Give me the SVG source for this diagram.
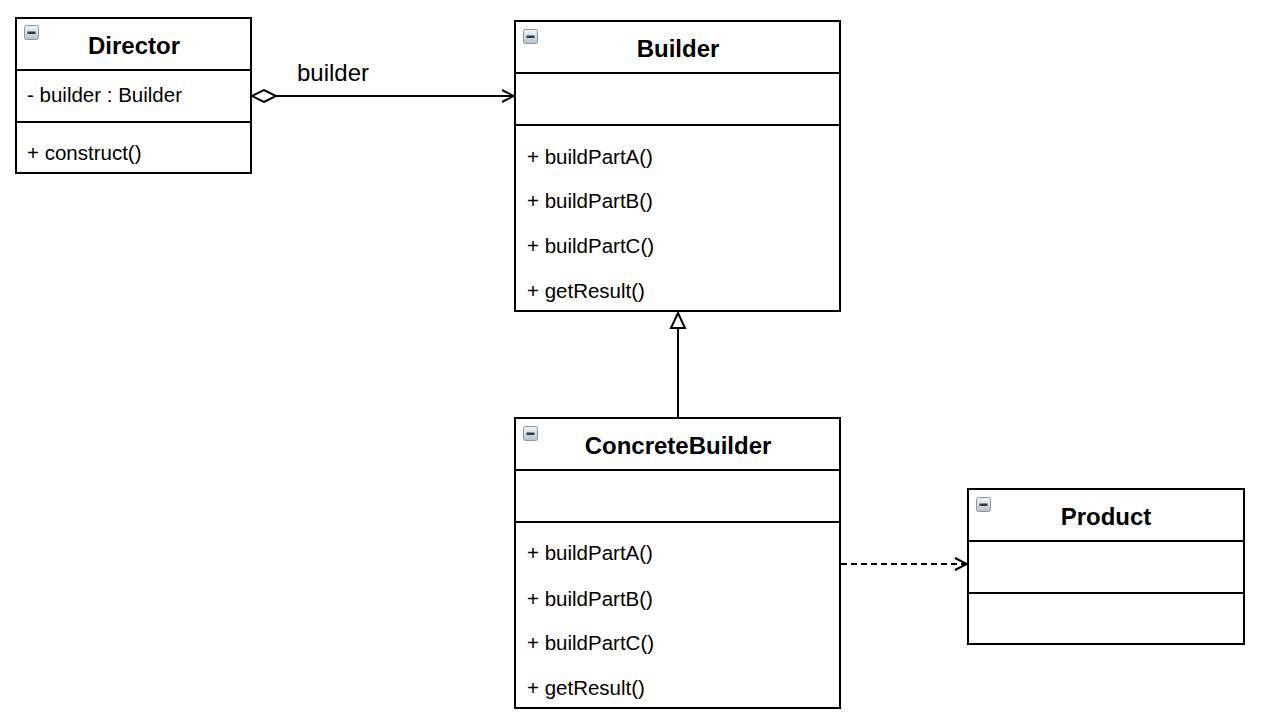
<svg xmlns="http://www.w3.org/2000/svg" width="1280" height="721" viewBox="0 0 1280 721">
<style>
.box{fill:#fff;stroke:#000;stroke-width:2}
.div{stroke:#000;stroke-width:2}
.title{font-family:"Liberation Sans",Arial,sans-serif;font-size:24px;font-weight:bold;text-anchor:middle;fill:#000}
.mem{font-family:"Liberation Sans",Arial,sans-serif;font-size:20.5px;fill:#000}
.lbl{font-family:"Liberation Sans",Arial,sans-serif;font-size:24px;fill:#000}
.edge{fill:none;stroke:#000;stroke-width:2}
</style>
<defs>
<linearGradient id="ig" x1="0" y1="0" x2="0" y2="1">
<stop offset="0" stop-color="#f4f6f8"/>
<stop offset="1" stop-color="#b8c2cc"/>
</linearGradient>
<g id="icon">
<rect x="0.5" y="0.5" width="14" height="14" rx="2" fill="url(#ig)" stroke="#8a96a2" stroke-width="1"/>
<rect x="3.5" y="6.5" width="8" height="2.5" fill="#2f3a44"/>
</g>
<marker id="open" markerWidth="16" markerHeight="16" refX="14" refY="8" orient="auto" markerUnits="userSpaceOnUse">
<path d="M2,2 L14,8 L2,14" fill="none" stroke="#000" stroke-width="2"/>
</marker>
<marker id="diamond" markerWidth="28" markerHeight="14" refX="1" refY="7" orient="auto" markerUnits="userSpaceOnUse">
<path d="M1,7 L13,1 L25,7 L13,13 Z" fill="#fff" stroke="#000" stroke-width="2"/>
</marker>
<marker id="tri" markerWidth="18" markerHeight="18" refX="16" refY="9" orient="auto" markerUnits="userSpaceOnUse">
<path d="M1,2 L16,9 L1,16 Z" fill="#fff" stroke="#000" stroke-width="2"/>
</marker>
</defs>

<g id="connectors">
<line class="edge" x1="252" y1="96" x2="514" y2="96" marker-start="url(#diamond)" marker-end="url(#open)"/>
<text class="lbl" x="297" y="81">builder</text>
<line class="edge" x1="678" y1="418" x2="678" y2="313" marker-end="url(#tri)"/>
<line class="edge" x1="841" y1="564" x2="967" y2="564" stroke-dasharray="6,4" marker-end="url(#open)"/>
</g>

<g id="director">
<rect class="box" x="16" y="18" width="235" height="155"/>
<line class="div" x1="16" y1="70" x2="251" y2="70"/>
<line class="div" x1="16" y1="122" x2="251" y2="122"/>
<use href="#icon" x="24" y="25"/>
<text class="title" x="134" y="54">Director</text>
<text class="mem" x="27" y="102">- builder : Builder</text>
<text class="mem" x="27" y="160">+ construct()</text>
</g>

<g id="builder">
<rect class="box" x="515" y="21" width="325" height="290"/>
<line class="div" x1="515" y1="73" x2="840" y2="73"/>
<line class="div" x1="515" y1="125" x2="840" y2="125"/>
<use href="#icon" x="523" y="29"/>
<text class="title" x="678" y="57">Builder</text>
<text class="mem" x="527" y="164">+ buildPartA()</text>
<text class="mem" x="527" y="208">+ buildPartB()</text>
<text class="mem" x="527" y="253">+ buildPartC()</text>
<text class="mem" x="527" y="298">+ getResult()</text>
</g>

<g id="concretebuilder">
<rect class="box" x="515" y="418" width="325" height="290"/>
<line class="div" x1="515" y1="470" x2="840" y2="470"/>
<line class="div" x1="515" y1="522" x2="840" y2="522"/>
<use href="#icon" x="523" y="426"/>
<text class="title" x="678" y="454">ConcreteBuilder</text>
<text class="mem" x="527" y="560">+ buildPartA()</text>
<text class="mem" x="527" y="606">+ buildPartB()</text>
<text class="mem" x="527" y="650">+ buildPartC()</text>
<text class="mem" x="527" y="695">+ getResult()</text>
</g>

<g id="product">
<rect class="box" x="968" y="489" width="276" height="155"/>
<line class="div" x1="968" y1="541" x2="1244" y2="541"/>
<line class="div" x1="968" y1="593" x2="1244" y2="593"/>
<use href="#icon" x="976" y="497"/>
<text class="title" x="1106" y="525">Product</text>
</g>
</svg>
